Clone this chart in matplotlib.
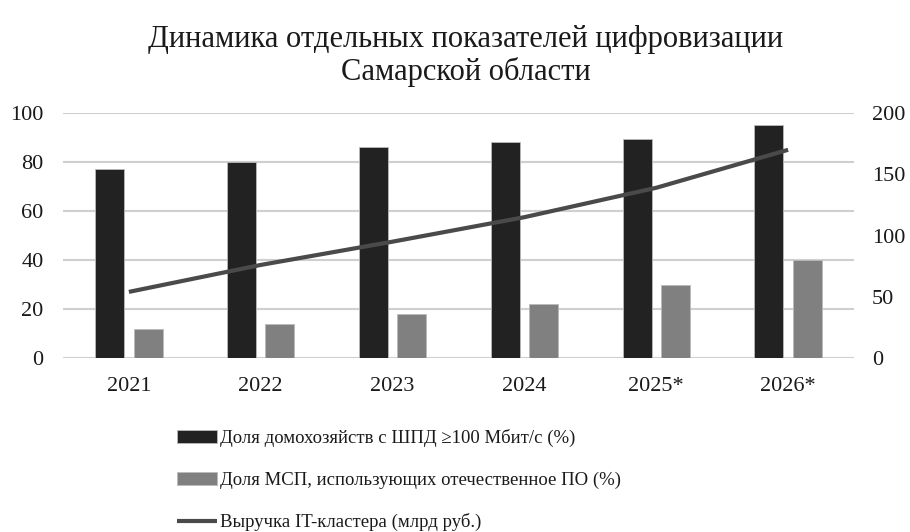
import matplotlib
matplotlib.use("Agg")
import matplotlib.pyplot as plt
import numpy as np

years = ["2021", "2022", "2023", "2024", "2025*", "2026*"]
broadband_share = [77, 80, 86, 88, 89.5, 95]
sme_domestic_sw = [12, 14, 18, 22, 30, 40]
it_revenue = [54, 76, 95, 115, 139, 170]

plt.rcParams['font.family'] = ['Liberation Serif', 'DejaVu Serif']

fig = plt.figure(figsize=(9.10, 5.32), dpi=100)
ax = fig.add_axes([0.0692, 0.327, 0.8693, 0.4605])
ax2 = ax.twinx()

x = np.arange(len(years))
w = 0.22
b1 = ax.bar(x - 0.145, broadband_share, width=w, color="#222222", edgecolor="#bbbbbb", linewidth=0.6, zorder=3,
            label="Доля домохозяйств с ШПД ≥100 Мбит/с (%)")
b2 = ax.bar(x + 0.145, sme_domestic_sw, width=w, color="#808080", edgecolor="#bbbbbb", linewidth=0.6, zorder=3,
            label="Доля МСП, использующих отечественное ПО (%)")
l1, = ax2.plot(x, it_revenue, color="#4a4a4a", linewidth=3, solid_capstyle="butt", zorder=4,
               label="Выручка IT-кластера (млрд руб.)")

ax.set_xlim(-0.5, len(years) - 0.5)
ax.set_ylim(0, 100)
ax2.set_ylim(0, 200)
ax.set_yticks(range(0, 101, 20))
ax2.set_yticks(range(0, 201, 50))
ax.set_xticks(x)
ax.set_xticklabels(years)
ax.grid(axis="y", color="#cfcfcf", linewidth=1.5, zorder=0)
ax.set_axisbelow(True)
for a in (ax, ax2):
    for s in a.spines.values():
        s.set_visible(False)
    a.tick_params(length=0, labelsize=16, colors="#1a1a1a")
ax.tick_params(axis="y", pad=14)
ax2.tick_params(axis="y", pad=13)
ax.tick_params(axis="x", pad=14)
ax2.set_zorder(ax.get_zorder() + 1)
ax2.patch.set_visible(False)

fig.text(0.512, 0.895, "Динамика отдельных показателей цифровизации\nСамарской области",
         ha="center", va="center", fontsize=22, color="#1a1a1a", linespacing=1.15)

fig.legend(handles=[b1, b2, l1], loc="upper left", bbox_to_anchor=(0.1845, 0.211),
           frameon=False, fontsize=13.5, labelspacing=1.3, handlelength=2.1, handletextpad=0.2,
           borderpad=0, labelcolor="#1a1a1a")

fig.savefig("out.png", dpi=100, facecolor="white")
